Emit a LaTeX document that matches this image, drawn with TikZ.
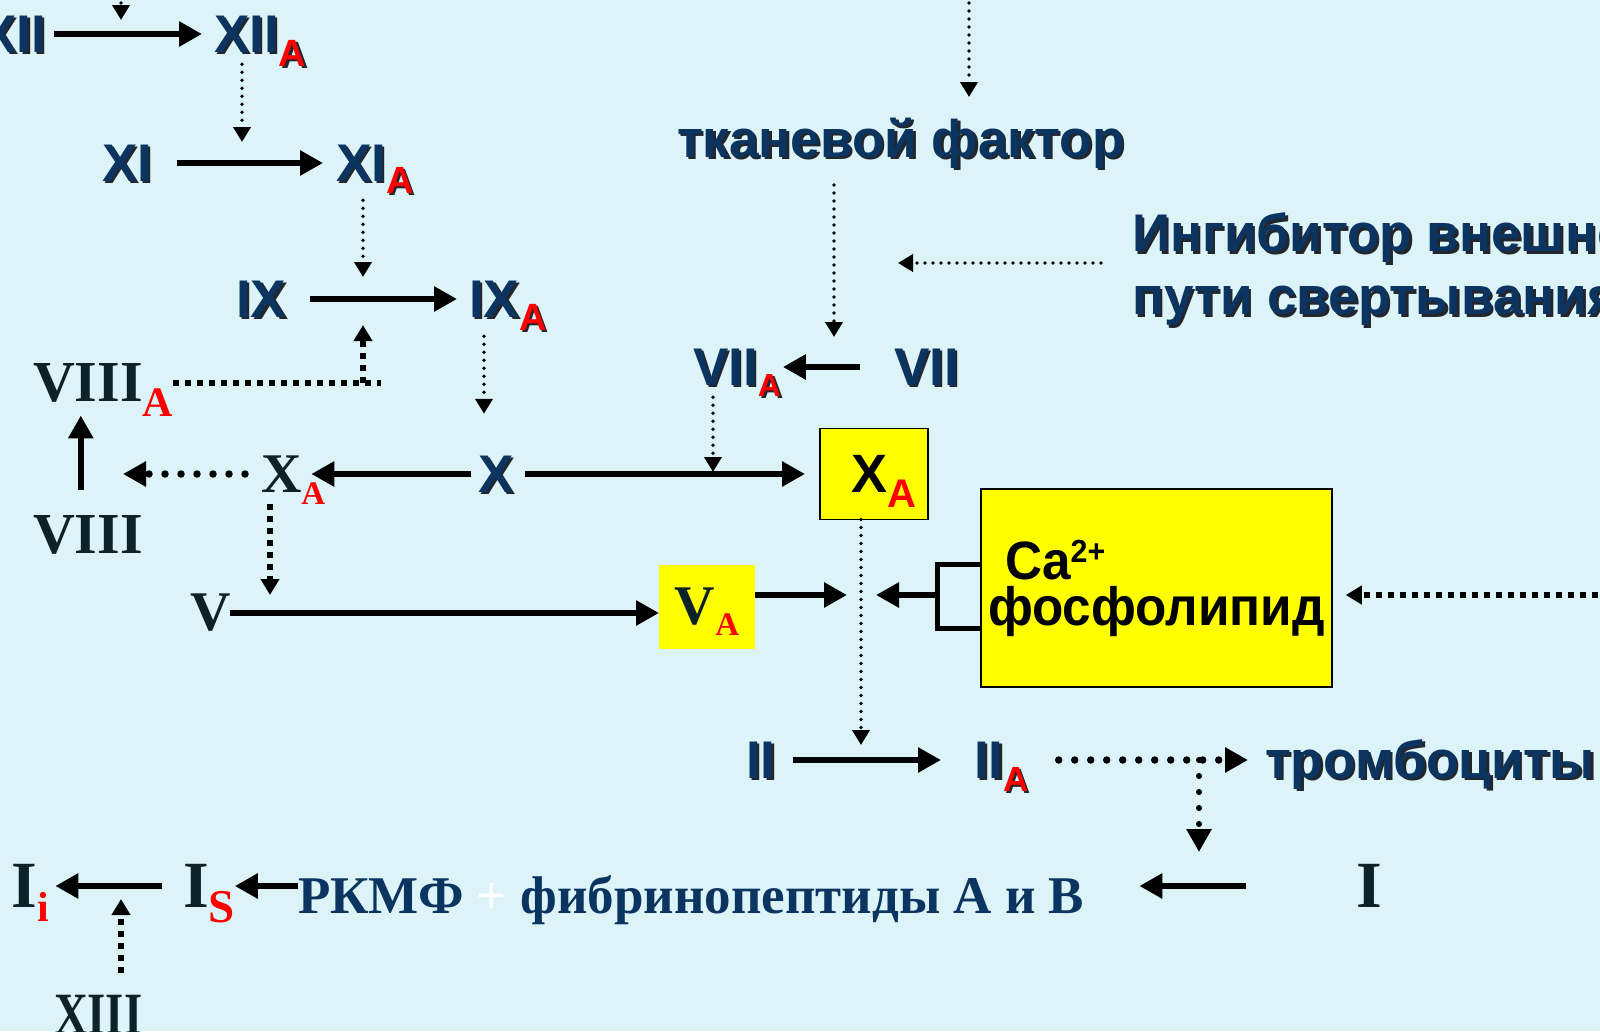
\documentclass[tikz,border=0pt]{standalone}
\usepackage{fontspec}
\setmainfont{Liberation Serif}
\setsansfont{Liberation Sans}
\newfontfamily\narrowsans[FakeStretch=0.95]{Liberation Sans}
\newfontfamily\narrowserif[FakeStretch=0.78]{Liberation Serif}
\usetikzlibrary{arrows.meta}

\definecolor{bgcyan}{RGB}{220,244,248}
\definecolor{navy}{RGB}{11,53,96}
\definecolor{romdark}{RGB}{11,35,40}
\definecolor{subred}{RGB}{255,0,0}
\definecolor{boxyellow}{RGB}{255,255,0}
\definecolor{shadowgray}{RGB}{35,38,45}

% red lowered index: drop, size, letter
\newcommand{\subcol}{subred}
\newcommand{\rsub}[3]{\raisebox{-#1pt}[0pt][0pt]{\fontsize{#2}{#2}\selectfont\textcolor{\subcol}{#3}}}
% drop shadow behind sans labels
\newcommand{\shd}[1]{\makebox[0pt][l]{\renewcommand{\subcol}{shadowgray}\raisebox{-2.5pt}[0pt][0pt]{\hspace{2.5pt}\textcolor{shadowgray}{#1}}}#1}

\tikzset{
  lab/.style={font=\sffamily\bfseries\fontsize{#1}{63}\selectfont, text=navy, inner sep=0pt, outer sep=0pt},
  lab/.default=53,
  rom/.style={font=\rmfamily\bfseries\fontsize{#1}{#1}\selectfont, text=romdark, inner sep=0pt, outer sep=0pt},
  rom/.default=58,
  arr/.style={line width=6.5pt, -{Triangle[length=23pt,width=24pt]}},
  bigdots/.style={line width=7.5pt, line cap=round, dash pattern=on 0pt off 16pt, -{Triangle[length=23pt,width=24pt]}},
  sqdots/.style={line width=6pt, dash pattern=on 6pt off 6pt},
  sqarr/.style={sqdots, -{Triangle[length=16pt,width=18pt]}},
  fine/.style={line width=3.8pt, line cap=round, dash pattern=on 0pt off 8pt, -{Triangle[length=15pt,width=17pt]}},
}

\begin{document}
\begin{tikzpicture}[x=1pt,y=-1pt]
  \useasboundingbox (0,0) rectangle (1600,1031);
  \clip (0,0) rectangle (1600,1031);
  \fill[bgcyan] (0,0) rectangle (1600,1031);
  \coordinate (nw) at (0,-5);

  % factors, sans
  \node[lab, anchor=east] (xii) at (46,34) {\shd{XII}};
  \node[lab, anchor=west] (xiia) at (214,34) {\shd{XII\rsub{14}{38}{A}}};
  \node[lab, anchor=west] (xi) at (102,163) {\shd{XI}};
  \node[lab, anchor=west] (xia) at (336,163) {\shd{XI\rsub{12}{38}{A}}};
  \node[lab, anchor=west] (ix) at (236,299) {\shd{IX}};
  \node[lab, anchor=west] (ixa) at (469,299) {\shd{IX\rsub{13}{38}{A}}};
  \node[lab, anchor=west] (xx) at (478,474) {\shd{X}};
  \node[lab, anchor=west] (viia) at (693,367) {\shd{VII\rsub{11}{32}{A}}};
  \node[lab, anchor=west] (vii) at (894,367) {\shd{VII}};
  \node[lab, anchor=west] (ii) at (746,760) {\shd{II}};
  \node[lab, anchor=west] (iia) at (974,760) {\shd{II\rsub{13}{35}{A}}};
  \node[lab, anchor=base west] (tf) at (677,157) {\shd{тканевой фактор}};
  \node[lab, anchor=north west, align=left] (inh) at (1132,213) {\shd{Ингибитор внешнего}\\\shd{пути свертывания}};
  \node[lab, anchor=base west] (tromb) at (1265,778) {\shd{тромбоциты}};

  % factors, serif
  \node[rom, anchor=west] (viiia) at (33,383) {VIII\rsub{15}{42}{A}};
  \node[rom, anchor=west] (viii) at (33,535) {VIII};
  \node[rom=56, anchor=west] (xa) at (261,474) {X\rsub{12}{33}{A}};
  \node[rom=56, anchor=west] (v) at (190,613) {V};
  \node[rom=66, anchor=west] (ibig) at (1356,886) {I};
  \node[rom=66, anchor=west] (ione) at (12,886) {I\rsub{14}{42}{i}};
  \node[rom=66, anchor=west] (is) at (183,886) {I\rsub{15}{47}{S}};
  \node[rom, font=\narrowserif\bfseries\fontsize{60}{60}\selectfont, anchor=west] (xiii) at (54,1015) {XIII};
  \node[rom=53, text=navy, anchor=base west] (rkmf) at (298,913) {РКМФ \textcolor{white}{+} фибринопептиды А и В};

  % yellow boxes
  \node[lab, text=black, draw=black, line width=1.5pt, fill=boxyellow, minimum width=108pt, minimum height=91pt,
    font=\sffamily\bfseries\fontsize{54}{54}\selectfont] (xabox) at (874,474) {\hspace*{20pt}X\rsub{15}{40}{A}};
  \node[rom=56, fill=boxyellow, minimum width=96pt, minimum height=84pt] (va) at (707,607) {V\rsub{11}{33}{A}};
  \node[draw=black, line width=1.5pt, fill=boxyellow, minimum width=351pt, minimum height=198pt, inner sep=0pt,
    align=left, font=\narrowsans\bfseries\fontsize{54}{46}\selectfont] (ca) at (1156.5,588)
    {\hspace*{17pt}Ca\raisebox{17pt}{\fontsize{32}{32}\selectfont 2+}\\фосфолипид};

  % points on the arrows
  \coordinate (c12) at (121,34);
  \coordinate (c11) at (242,163);
  \coordinate (c9) at (363,299);
  \coordinate (c8) at (381,383);
  \coordinate (c10) at (484,474);
  \coordinate (p8) at (81,474);
  \coordinate (c5) at (270,611);
  \coordinate (c4) at (713,474);
  \coordinate (c7) at (834,367);
  \coordinate (c6) at (834,263);
  \coordinate (tfin) at (969,97);
  \coordinate (mix) at (861,595);
  \coordinate (c2a) at (861,760);
  \coordinate (c2) at (1199,760);
  \coordinate (fib) at (1199,884);
  \coordinate (rin) at (1610,595);
  \coordinate (c13) at (121,884);

  % conversions
  \draw[arr, shorten <=8pt, shorten >=12pt] (xii) -- (xiia);
  \draw[arr, shorten <=25pt, shorten >=13pt] (xi) -- (xia);
  \draw[arr, shorten <=24pt, shorten >=12pt] (ix) -- (ixa);
  \draw[arr, shorten <=34pt, shorten >=2pt] (vii) -- (viia);
  \draw[arr, shorten <=7pt, shorten >=-14pt] (xx) -- (xa);
  \draw[arr, shorten <=12pt, shorten >=15pt] (xx) -- (xabox);
  \draw[arr, shorten <=26pt, shorten >=13pt] ([xshift=-7pt]viii.north) -- ([xshift=-7pt]viii.north |- viiia.south);
  \draw[arr] (v) -- (v -| va.west);
  \draw[arr, shorten >=14pt] (va.east |- mix) -- (mix);
  \draw[line width=5pt] ([yshift=24pt]ca.west) -| ([xshift=-43pt,yshift=-40pt]ca.west) -- ([yshift=-40pt]ca.west);
  \draw[arr, shorten >=15pt] ([xshift=-43pt,yshift=-7pt]ca.west) -- (mix);
  \draw[arr, shorten <=18pt, shorten >=33pt] (ii) -- (iia);
  \draw[arr, shorten <=110pt, shorten >=55pt] (ibig) -- (ibig -| rkmf.east);
  \draw[arr, shorten <=21pt, shorten >=6pt] (is) -- (ione);
  \draw[arr] (rkmf.west |- is) -- (is);

  % activations
  \draw[fine, shorten >=14pt] (c12 |- nw) -- (c12);
  \draw[fine, shorten <=12pt, shorten >=21pt] (c11 |- xiia.south) -- (c11);
  \draw[fine, shorten <=19pt, shorten >=22pt] (c9 |- xia.south) -- (c9);
  \draw[sqdots] (viiia) -- (c8);
  \draw[sqarr, shorten >=26pt] (c9 |- c8) -- (c9);
  \draw[fine, shorten <=19pt, shorten >=42pt] (c10 |- ixa.south) -- (c10 |- xx.north);
  \draw[bigdots, shorten <=16pt, shorten >=42pt] (xa) -- (p8);
  \draw[sqarr, shorten <=12pt, shorten >=16pt] (c5 |- xa.south) -- (c5);
  \draw[fine] (tfin |- nw) -- (tfin);
  \draw[fine, shorten <=17pt, shorten >=30pt] (c7 |- tf.south) -- (c7);
  \draw[fine, shorten <=31pt, shorten >=64pt] (inh.west |- c6) -- (c6);
  \draw[fine, shorten <=12pt, shorten >=2pt] (c4 |- viia.south) -- (c4);
  \draw[fine, shorten >=15pt] (c2a |- xabox.south) -- (c2a);
  \draw[sqarr, shorten >=13pt] (rin) -- (ca.east |- rin);
  \draw[bigdots, shorten <=30pt, shorten >=17pt] (iia) -- (iia -| tromb.west);
  \draw[bigdots, line width=6pt, shorten >=32pt] (c2) -- (fib);
  \draw[sqarr, shorten <=22pt, shorten >=15pt] (c13 |- xiii.north) -- (c13);
\end{tikzpicture}
\end{document}
